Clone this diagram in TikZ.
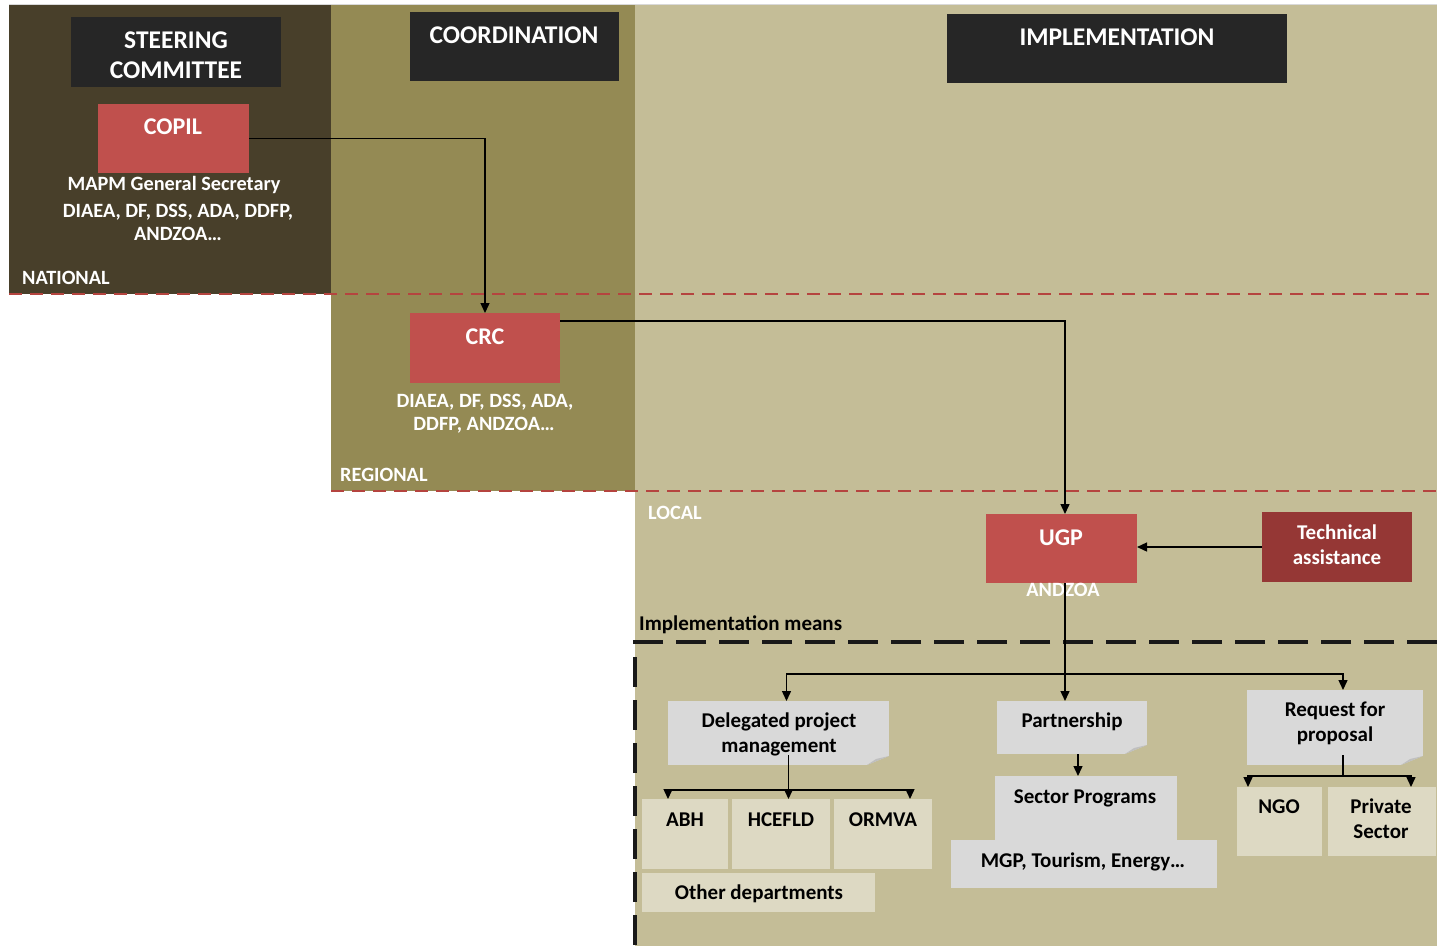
\documentclass[tikz,border=0pt]{standalone}
\usepackage{fontspec}
\setmainfont{Carlito}
\usetikzlibrary{arrows.meta,calc}
\definecolor{natbg}{HTML}{483F2A}
\definecolor{midbg}{HTML}{948A54}
\definecolor{lightbg}{HTML}{C4BD97}
\definecolor{hdrc}{HTML}{262626}
\definecolor{redc}{HTML}{C0504D}
\definecolor{darkredc}{HTML}{953735}
\definecolor{notec}{HTML}{D9D9D9}
\definecolor{foldc}{HTML}{BFBFBF}
\definecolor{paleboxc}{HTML}{DDD9C3}
\definecolor{dashred}{HTML}{B5443F}
\newcommand\foldcorner[1]{%
  \fill[lightbg] (#1.south east) -- ++(-22,0) -- ++(22,-9) -- cycle;
  \fill[foldc] ($(#1.south east)+(-22,0)$) -- ($(#1.south east)+(0,-9)$) -- ($(#1.south east)+(-13,-6)$) -- cycle;}
\begin{document}
\begin{tikzpicture}[x=1pt,y=-1pt,
  box/.style={inner sep=0pt, outer sep=0pt, anchor=north west, draw=none},
  hdr/.style={box, fill=hdrc},
  redbox/.style={box, fill=redc},
  dredbox/.style={box, fill=darkredc},
  notebox/.style={box, fill=notec},
  palebox/.style={box, fill=paleboxc},
  hdrtxt/.style={text=white, font=\bfseries\fontsize{25.5}{30}\selectfont, anchor=base, inner sep=0pt},
  titletxt/.style={text=white, font=\bfseries\fontsize{24}{28}\selectfont, anchor=base, inner sep=0pt},
  wtxt/.style={text=white, font=\bfseries\fontsize{20.3}{23}\selectfont, anchor=base, inner sep=0pt},
  wtxtl/.style={wtxt, anchor=base west},
  btxt/.style={text=black, font=\bfseries\fontsize{21}{25}\selectfont, anchor=base, inner sep=0pt},
  tatxt/.style={text=white, font=\bfseries\fontsize{21}{25}\selectfont, anchor=base, inner sep=0pt},
  arr/.style={draw=black, line width=1.4pt, -{Triangle[length=10pt,width=9pt]}},
  ln/.style={draw=black, line width=1.4pt},
  reddash/.style={draw=dashred, line width=2.8pt, dash pattern=on 13pt off 8pt},
  blkdash/.style={draw=black!90, line width=4pt, dash pattern=on 30pt off 13pt}
]
\useasboundingbox (0,0) rectangle (1437,946);
\fill[white] (0,0) rectangle (1437,946);
% regions
\fill[natbg] (9,5) rectangle (331,294);
\fill[midbg] (331,5) rectangle (635,491);
\fill[lightbg] (635,5) rectangle (1437,946);
\draw[black!15, line width=1pt] (9,4.5) -- (1437,4.5);
% level separators
\draw[reddash] (9,294) -- (1437,294);
\draw[reddash] (331,491) -- (1437,491);
% implementation means frame
\draw[blkdash] (1437,642) -- (635,642) -- (635,946);

% header boxes
\node[hdr, minimum width=210, minimum height=70] (steer) at (71,17) {};
\node[hdrtxt] (steer1) at (176,48) {STEERING};
\node[hdrtxt] (steer2) at (176,78) {COMMITTEE};
\node[hdr, minimum width=209, minimum height=69] (coord) at (410,12) {};
\node[hdrtxt] (coordt) at (514,43) {COORDINATION};
\node[hdr, minimum width=340, minimum height=69] (impl) at (947,14) {};
\node[hdrtxt] (implt) at (1117,45) {IMPLEMENTATION};

% national
\node[redbox, minimum width=151, minimum height=69] (copil) at (98,104) {};
\node[titletxt] (copilt) at (173,134) {COPIL};
\node[wtxt] (copil1) at (174,190) {MAPM General Secretary};
\node[wtxt] (copil2) at (178,217) {DIAEA, DF, DSS, ADA, DDFP,};
\node[wtxt] (copil3) at (178,240) {ANDZOA…};
\node[wtxtl] (national) at (22,284.5) {NATIONAL};

% regional
\node[redbox, minimum width=150, minimum height=70] (crc) at (410,313) {};
\node[titletxt] (crct) at (485,344) {CRC};
\node[wtxt] (crc1) at (485,407) {DIAEA, DF, DSS, ADA,};
\node[wtxt] (crc2) at (484,430) {DDFP, ANDZOA…};
\node[wtxtl] (regional) at (340,481.5) {REGIONAL};

% local
\node[wtxtl] (local) at (648,519.5) {LOCAL};
\node[redbox, minimum width=151, minimum height=69] (ugp) at (986,514) {};
\node[titletxt] (ugpt) at (1061,545) {UGP};
\node[wtxt] (andzoa) at (1063,596) {ANDZOA};
\node[dredbox, minimum width=150, minimum height=70] (tech) at (1262,512) {};
\node[tatxt] (tech1) at (1337,539) {Technical};
\node[tatxt] (tech2) at (1337,564) {assistance};
\node[btxt, anchor=base west] (means) at (639,630) {Implementation means};

% implementation means boxes
\node[notebox, minimum width=221, minimum height=64] (dpm) at (668,701) {};
\foldcorner{dpm}
\node[btxt] (dpm1) at (779,727) {Delegated project};
\node[btxt] (dpm2) at (779,752) {management};
\node[notebox, minimum width=150, minimum height=53] (part) at (997,701) {};
\foldcorner{part}
\node[btxt] (partt) at (1072,727) {Partnership};
\node[notebox, minimum width=176, minimum height=75] (rfp) at (1247,690) {};
\foldcorner{rfp}
\node[btxt] (rfp1) at (1335,716) {Request for};
\node[btxt] (rfp2) at (1335,741) {proposal};
\node[notebox, minimum width=182, minimum height=65] (sect) at (995,776) {};
\node[notebox, minimum width=266, minimum height=48] (mgp) at (951,840) {};
\node[btxt] (sectt) at (1085,803) {Sector Programs};
\node[btxt] (mgpt) at (1083,867) {MGP, Tourism, Energy…};

\node[palebox, minimum width=86, minimum height=70] (abh) at (642,799) {};
\node[btxt] (abht) at (685,826) {ABH};
\node[palebox, minimum width=98, minimum height=70] (hce) at (732,799) {};
\node[btxt] (hcet) at (781,826) {HCEFLD};
\node[palebox, minimum width=98, minimum height=70] (orm) at (834,799) {};
\node[btxt] (ormt) at (883,826) {ORMVA};
\node[palebox, minimum width=233, minimum height=39] (oth) at (642,873) {};
\node[btxt] (otht) at (759,899) {Other departments};
\node[palebox, minimum width=85, minimum height=69] (ngo) at (1237,787) {};
\node[btxt] (ngot) at (1279,813) {NGO};
\node[palebox, minimum width=108, minimum height=69] (priv) at (1328,787) {};
\node[btxt] (priv1) at (1381,813) {Private};
\node[btxt] (priv2) at (1381,838) {Sector};

% connectors
\draw[arr] (copil.east) -| (crc.north);
\draw[arr] ($(crc.north east)+(0,8)$) -| ($(ugp.north)+(3.5,0)$);
\draw[arr] (tech.west) -- (tech.west -| ugp.east);
\coordinate (ugpout) at ($(ugp.south)+(3.5,0)$);
\draw[arr] (ugpout) -- (ugpout |- part.north);
\coordinate (br) at ($(ugpout)+(0,91)$);
\draw[arr] (br) -| ($(dpm.north)+(8,0)$);
\draw[arr] (br) -| ($(rfp.north)+(8,0)$);
% delegated branch
\coordinate (dpmb) at ($(dpm.south)+(10,-10)$);
\coordinate (dbr) at ($(dpmb)+(0,35)$);
\draw[ln] (dpmb) -- (dbr);
\draw[arr] (dbr) -| ($(abh.north)+(-17,0)$);
\draw[arr] (dbr) -| ($(hce.north)+(7.5,0)$);
\draw[arr] (dbr) -| ($(orm.north)+(27,0)$);
% partnership
\coordinate (partb) at ($(part.south)+(6,0)$);
\draw[arr] (partb) -- (partb |- sect.north);
% request branch
\coordinate (rfpb) at ($(rfp.south)+(8,-10)$);
\coordinate (rbr) at ($(rfpb)+(0,21)$);
\draw[ln] (rfpb) -- (rbr);
\draw[arr] (rbr) -| ($(ngo.north)+(-31.5,0)$);
\draw[arr] (rbr) -| ($(priv.north)+(29,0)$);
\end{tikzpicture}
\end{document}
